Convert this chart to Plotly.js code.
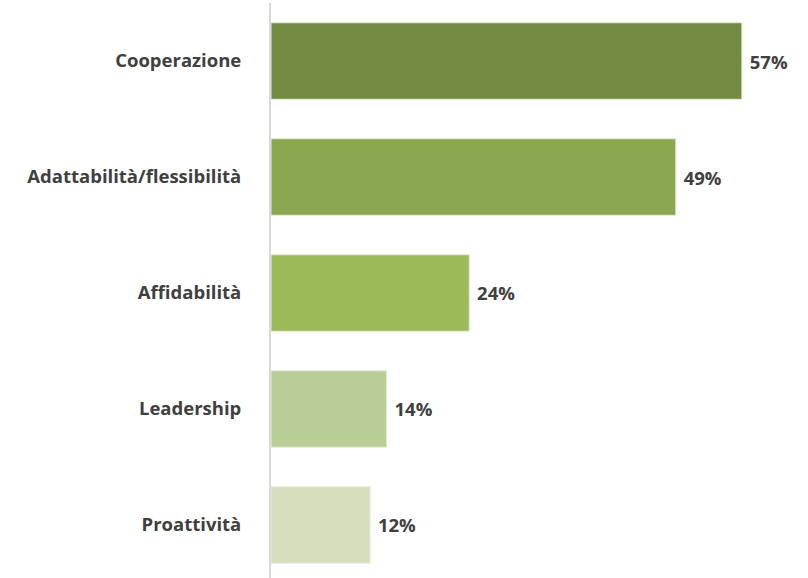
<!DOCTYPE html>
<html><head><meta charset="utf-8">
<script src="https://cdn.plot.ly/plotly-3.0.1.min.js"></script>
<style>html,body{margin:0;padding:0;background:#fff}</style>
</head><body><div id="chart" style="width:808px;height:578px"></div>
<script>
const categories = ["Cooperazione", "Adattabilità/flessibilità", "Affidabilità", "Leadership", "Proattività"];
const values = [57, 49, 24, 14, 12];
const colors = ["#738B42", "#8BA750", "#9BBB59", "#B9CE96", "#D3DFBD"];

const trace = {
  type: "bar",
  orientation: "h",
  y: categories,
  x: values,
  marker: {color: colors, line: {color: "#E8EEDC", width: 1}},
  text: values.map(v => "\u00a0" + v + "%"),
  textposition: "outside",
  cliponaxis: false,
  textfont: {family: "'Open Sans', sans-serif", size: 18.5, color: "#404040", weight: "bold"},
  hoverinfo: "none",
  width: 0.66
};

const layout = {
  width: 808, height: 578,
  margin: {l: 271, r: 0, t: 3, b: 0},
  paper_bgcolor: "#fff", plot_bgcolor: "#fff",
  showlegend: false,
  xaxis: {range: [0, 65], showgrid: false, zeroline: false, showticklabels: false, showline: false, ticks: ""},
  yaxis: {type: "category", range: [4.457, -0.5], showgrid: false, zeroline: false,
    showline: true, linecolor: "#D9D9D9", linewidth: 2, ticks: "", ticklabelstandoff: 24,
    tickfont: {family: "'Open Sans', sans-serif", size: 18.5, color: "#404040", weight: "bold"}}
};
Plotly.newPlot("chart", [trace], layout, {displayModeBar: false, staticPlot: true});
</script></body></html>
